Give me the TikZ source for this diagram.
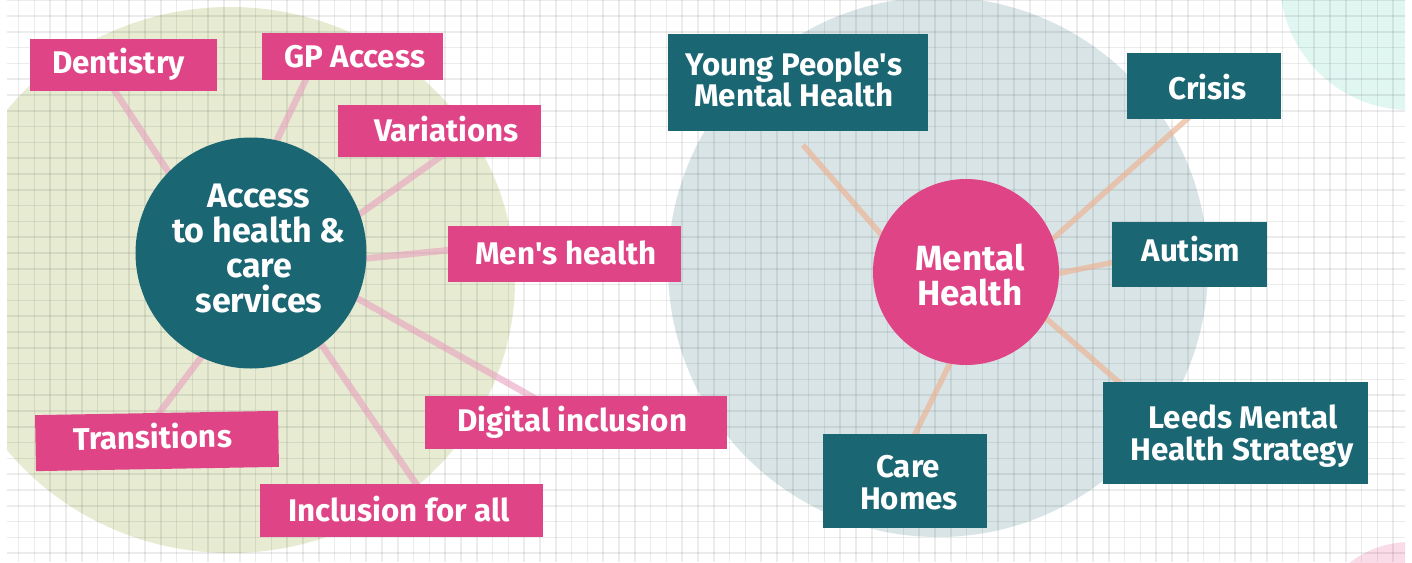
\documentclass[tikz,border=0pt]{standalone}
\usepackage{fontspec}
\setmainfont{Fira Sans}
\definecolor{pinkc}{HTML}{DF4586}
\definecolor{tealc}{HTML}{1A6673}
\definecolor{olivec}{HTML}{E6EBD2}
\definecolor{bluegrayc}{HTML}{D8E4E6}
\definecolor{mintc}{HTML}{DFF6F1}
\definecolor{blushc}{HTML}{F9DCE8}
\definecolor{lconnc}{HTML}{E8A0BE}
\definecolor{rconnc}{HTML}{EBB597}
\tikzset{
  gridline/.style={draw=black, opacity=0.075, line width=1.6pt},
  lconn/.style={draw=lconnc, opacity=0.6, line width=6.5pt},
  rconn/.style={draw=rconnc, opacity=0.7, line width=5.5pt},
  pbox/.style={fill=pinkc, inner sep=0pt, anchor=north west},
  tbox/.style={fill=tealc, inner sep=0pt, anchor=north west},
  boxtext/.style={text=white, inner sep=0pt, font=\fontsize{31.3}{36}\selectfont\bfseries},
  hub/.style={circle, inner sep=0pt},
  hubtext/.style={text=white, inner sep=0pt, align=center}
}
\begin{document}
\begin{tikzpicture}[x=1pt,y=-1pt]
\useasboundingbox (0,0) rectangle (1412,562);
\fill[white] (0,0) rectangle (1412,562);
\begin{scope}
  \clip (7,0) rectangle (1405,562);
  % pale background discs
  \fill[olivec] (230,280) ellipse [x radius=285, y radius=273];
  \fill[bluegrayc] (938,267) circle [radius=270];
  \fill[mintc] (1410,-20) circle [radius=130];
  \fill[blushc] (1410,640) circle [radius=98];
  % squared paper
  \foreach \i in {0,...,89} {\draw[gridline] ({2.7+15.8*\i},0) -- ++(0,562);}
  \foreach \j in {0,...,36} {\draw[gridline] (7,{0.2+15.8*\j}) -- ++(1398,0);}
\end{scope}

% connector end points (left hub)
\coordinate (dent-a) at (105,76);   \coordinate (dent-b) at (198,217);
\coordinate (gp-a) at (308,75);     \coordinate (gp-b) at (265,165);
\coordinate (var-a) at (450,150);   \coordinate (var-b) at (330,235);
\coordinate (men-a) at (460,249);   \coordinate (men-b) at (320,263);
\coordinate (dig-a) at (545,404);   \coordinate (dig-b) at (330,283);
\coordinate (inc-a) at (425,497);   \coordinate (inc-b) at (300,313);
\coordinate (tra-a) at (150,425);   \coordinate (tra-b) at (218,335);
% connector end points (right hub)
\coordinate (yp-a) at (803,145);    \coordinate (yp-b) at (920,279);
\coordinate (cri-a) at (1195,112);  \coordinate (cri-b) at (1000,286);
\coordinate (aut-a) at (1125,260);  \coordinate (aut-b) at (990,287);
\coordinate (lee-a) at (1130,392);  \coordinate (lee-b) at (1000,278);
\coordinate (car-a) at (910,444);   \coordinate (car-b) at (965,333);

\draw[lconn] (dent-a) -- (dent-b);
\draw[lconn] (gp-a) -- (gp-b);
\draw[lconn] (var-a) -- (var-b);
\draw[lconn] (men-a) -- (men-b);
\draw[lconn] (dig-a) -- (dig-b);
\draw[lconn] (inc-a) -- (inc-b);
\draw[lconn] (tra-a) -- (tra-b);
\draw[rconn] (yp-a) -- (yp-b);
\draw[rconn] (cri-a) -- (cri-b);
\draw[rconn] (aut-a) -- (aut-b);
\draw[rconn] (lee-a) -- (lee-b);
\draw[rconn] (car-a) -- (car-b);

% hubs
\node[hub, fill=tealc, minimum size=231pt] (access) at (251,253) {};
\node[hubtext, font=\fontsize{34}{35.3}\selectfont\bfseries] (access-t) at (259,248.5)
      {Access\\to health \&\\care\\services};
\node[hub, fill=pinkc, minimum size=186pt] (mental) at (966,272) {};
\node[hubtext, font=\fontsize{35}{35}\selectfont\bfseries] (mental-t) at (970,275.5)
      {Mental\\Health};

% topic boxes around the access hub
\node[pbox, minimum width=187pt, minimum height=52pt] (dent) at (30,39) {};
\node[boxtext, anchor=base west] (dent-t) at (52,73) {Dentistry};
\node[pbox, minimum width=181pt, minimum height=47pt] (gp) at (262,33) {};
\node[boxtext, anchor=base west] (gp-t) at (284,67) {GP Access};
\node[pbox, minimum width=203pt, minimum height=52pt] (var) at (338,105) {};
\node[boxtext, anchor=base west] (var-t) at (374,141.5) {Variations};
\node[pbox, minimum width=233pt, minimum height=56pt] (men) at (448,226) {};
\node[boxtext, anchor=base west] (men-t) at (475,264.5) {Men\textquotesingle s health};
\node[pbox, minimum width=302pt, minimum height=53pt] (dig) at (425,396) {};
\node[boxtext, anchor=base west] (dig-t) at (457,431.5) {Digital inclusion};
\node[pbox, minimum width=283pt, minimum height=53pt] (inc) at (260,484) {};
\node[boxtext, anchor=base west] (inc-t) at (288,521) {Inclusion for all};
\node[fill=pinkc, inner sep=0pt, minimum width=243pt, minimum height=56pt,
      rotate=1] (tra) at (157,441) {};
\node[boxtext, anchor=base west, rotate=1] (tra-t) at (73,450) {Transitions};

% topic boxes around the mental health hub
\node[tbox, minimum width=260pt, minimum height=97pt] (yp) at (668,34) {};
\node[boxtext, anchor=base] (yp-t1) at (794,75) {Young People\textquotesingle s};
\node[boxtext, anchor=base] (yp-t2) at (794,106) {Mental Health};
\node[tbox, minimum width=154pt, minimum height=66pt] (cri) at (1127,53) {};
\node[boxtext, anchor=base] (cri-t) at (1207.5,99.5) {Crisis};
\node[tbox, minimum width=155pt, minimum height=65pt] (aut) at (1112,222) {};
\node[boxtext, anchor=base] (aut-t) at (1191,261.5) {Autism};
\node[tbox, minimum width=265pt, minimum height=102pt] (lee) at (1103,382) {};
\node[boxtext, anchor=base] (lee-t1) at (1243,428) {Leeds Mental};
\node[boxtext, anchor=base] (lee-t2) at (1242,460) {Health Strategy};
\node[tbox, minimum width=164pt, minimum height=94pt] (car) at (823,434) {};
\node[boxtext, anchor=base] (car-t1) at (908,477) {Care};
\node[boxtext, anchor=base] (car-t2) at (909,509) {Homes};
\end{tikzpicture}
\end{document}
